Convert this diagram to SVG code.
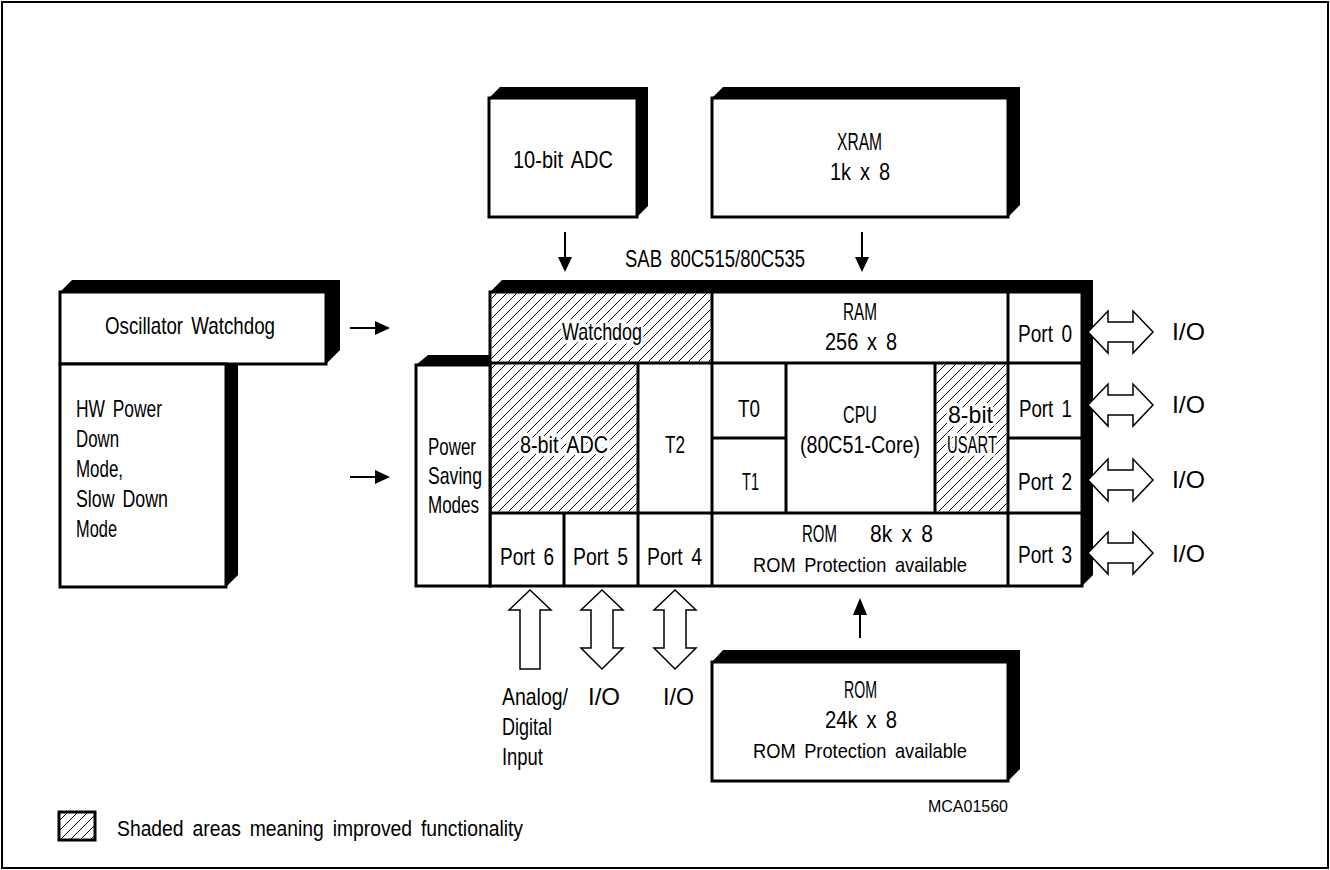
<svg xmlns="http://www.w3.org/2000/svg" width="1330" height="870" viewBox="0 0 1330 870">
<style>
.box{fill:#fff;stroke:#000;stroke-width:3}
.sh{fill:#000}
.ln{stroke:#000;stroke-width:3;fill:none}
.t{font-family:"Liberation Sans",Arial,sans-serif;font-size:24px;fill:#000;word-spacing:4px}
.rp{font-size:21px;word-spacing:4px}
.halo{stroke:#fff;stroke-width:7px;stroke-linejoin:round;paint-order:stroke}
.hat{fill:url(#hatch)}
.oa{fill:#fff;stroke:#000;stroke-width:1.5}
.arr{stroke:#000;stroke-width:2;fill:none}
.ah{fill:#000}
</style>
<defs>
<pattern id="hatch" patternUnits="userSpaceOnUse" width="10" height="10">
<path d="M-1,1 L1,-1 M0,10 L10,0 M9,11 L11,9" stroke="#000" stroke-width="1"/>
</pattern>
</defs>
<rect x="2" y="2" width="1326" height="866" fill="#fff" stroke="#000" stroke-width="2"/>

<g id="adc10">
<polygon class="sh" points="489,98 500,87 648,87 648,206 637,217 637,98"/>
<rect class="box" x="489" y="98" width="148" height="119"/>
<text class="t" x="513" y="168" textLength="100" lengthAdjust="spacingAndGlyphs">10-bit ADC</text>
</g>

<g id="xram">
<polygon class="sh" points="712,98 723,87 1020,87 1020,205 1008,217 1008,98"/>
<rect class="box" x="712" y="98" width="296" height="119"/>
<text class="t" x="837" y="150" textLength="45" lengthAdjust="spacingAndGlyphs">XRAM</text>
<text class="t" x="830" y="180" textLength="60" lengthAdjust="spacingAndGlyphs">1k x 8</text>
</g>

<text class="t" x="625" y="267" textLength="180" lengthAdjust="spacingAndGlyphs">SAB 80C515/80C535</text>

<g id="osc-watchdog">
<polygon class="sh" points="60,292 72,280 340,280 340,350 326,364 326,292"/>
<rect class="box" x="60" y="292" width="266" height="72"/>
<text class="t" x="105" y="334" textLength="170" lengthAdjust="spacingAndGlyphs">Oscillator Watchdog</text>
</g>

<g id="hw-power-down">
<polygon class="sh" points="226,364 238,364 238,575 226,587"/>
<rect class="box" x="60" y="364" width="166" height="223"/>
<text class="t" x="76" y="417" textLength="86" lengthAdjust="spacingAndGlyphs">HW Power</text>
<text class="t" x="76" y="447" textLength="43" lengthAdjust="spacingAndGlyphs">Down</text>
<text class="t" x="76" y="477" textLength="47" lengthAdjust="spacingAndGlyphs">Mode,</text>
<text class="t" x="76" y="507" textLength="92" lengthAdjust="spacingAndGlyphs">Slow Down</text>
<text class="t" x="76" y="537" textLength="41" lengthAdjust="spacingAndGlyphs">Mode</text>
</g>

<g id="main-block">
<polygon class="sh" points="490,292 502,280 1093,280 1093,575 1082,586 1082,292"/>
<polygon class="sh" points="416,365 428,355 490,355 490,365"/>
<rect class="box" x="490" y="292" width="592" height="294"/>
<rect class="box" x="416" y="365" width="74" height="221"/>
</g>

<g id="power-saving">
<text class="t" x="428" y="455" textLength="48" lengthAdjust="spacingAndGlyphs">Power</text>
<text class="t" x="428" y="484" textLength="54" lengthAdjust="spacingAndGlyphs">Saving</text>
<text class="t" x="428" y="513" textLength="51" lengthAdjust="spacingAndGlyphs">Modes</text>
</g>

<g id="watchdog">
<rect class="hat" x="491.5" y="293.5" width="219" height="68"/>
<text class="t halo" x="562" y="340" textLength="80" lengthAdjust="spacingAndGlyphs">Watchdog</text>
</g>

<g id="adc8">
<rect class="hat" x="491.5" y="364.5" width="145" height="147"/>
<text class="t halo" x="520" y="453" textLength="88" lengthAdjust="spacingAndGlyphs">8-bit ADC</text>
</g>

<g id="usart">
<rect class="hat" x="936.5" y="364.5" width="70" height="147"/>
<text class="t halo" x="948" y="423" textLength="45" lengthAdjust="spacingAndGlyphs">8-bit</text>
<text class="t halo" x="947" y="453" textLength="50" lengthAdjust="spacingAndGlyphs">USART</text>
</g>

<g id="grid">
<path class="ln" d="M712,292 V586 M1008,292 V586 M490,363 H1082 M490,513 H1082 M712,438 H786 M1008,438 H1082 M638,363 V586 M564,513 V586 M786,363 V513 M935,363 V513"/>
</g>

<g id="t2"><text class="t" x="665" y="453" textLength="20" lengthAdjust="spacingAndGlyphs">T2</text></g>
<g id="ram">
<text class="t" x="843" y="320" textLength="34" lengthAdjust="spacingAndGlyphs">RAM</text>
<text class="t" x="825" y="350" textLength="72" lengthAdjust="spacingAndGlyphs">256 x 8</text>
</g>
<g id="t0"><text class="t" x="738" y="417" textLength="22" lengthAdjust="spacingAndGlyphs">T0</text></g>
<g id="t1"><text class="t" x="742" y="490" textLength="17" lengthAdjust="spacingAndGlyphs">T1</text></g>
<g id="cpu">
<text class="t" x="843" y="423" textLength="34" lengthAdjust="spacingAndGlyphs">CPU</text>
<text class="t" x="800" y="453" textLength="120" lengthAdjust="spacingAndGlyphs">(80C51-Core)</text>
</g>
<g id="rom8k">
<text class="t"><tspan x="802" y="542" textLength="35" lengthAdjust="spacingAndGlyphs">ROM</tspan><tspan x="870" y="542" textLength="63" lengthAdjust="spacingAndGlyphs">8k x 8</tspan></text>
<text class="t rp" x="753" y="572" textLength="214" lengthAdjust="spacingAndGlyphs">ROM Protection available</text>
</g>
<g id="port0"><text class="t" x="1018" y="342" textLength="54" lengthAdjust="spacingAndGlyphs">Port 0</text></g>
<g id="port1"><text class="t" x="1019" y="417" textLength="53" lengthAdjust="spacingAndGlyphs">Port 1</text></g>
<g id="port2"><text class="t" x="1018" y="490" textLength="54" lengthAdjust="spacingAndGlyphs">Port 2</text></g>
<g id="port3"><text class="t" x="1018" y="563" textLength="54" lengthAdjust="spacingAndGlyphs">Port 3</text></g>
<g id="port6"><text class="t" x="500" y="565" textLength="54" lengthAdjust="spacingAndGlyphs">Port 6</text></g>
<g id="port5"><text class="t" x="573" y="565" textLength="55" lengthAdjust="spacingAndGlyphs">Port 5</text></g>
<g id="port4"><text class="t" x="647" y="565" textLength="55" lengthAdjust="spacingAndGlyphs">Port 4</text></g>

<g id="rom24k">
<polygon class="sh" points="712,662 723,650 1020,650 1020,769 1008,781 1008,662"/>
<rect class="box" x="712" y="662" width="296" height="119"/>
<text class="t" x="844" y="698" textLength="33" lengthAdjust="spacingAndGlyphs">ROM</text>
<text class="t" x="825" y="728" textLength="72" lengthAdjust="spacingAndGlyphs">24k x 8</text>
<text class="t rp" x="753" y="758" textLength="214" lengthAdjust="spacingAndGlyphs">ROM Protection available</text>
</g>

<g id="connectors">
<path class="arr" d="M565,232 V259 M862,232 V259 M350,328 H377 M350,477 H377 M860,638 V613"/>
<polygon class="ah" points="558,257 572,257 565,272"/>
<polygon class="ah" points="855,257 869,257 862,272"/>
<polygon class="ah" points="375,321 375,335 390,328"/>
<polygon class="ah" points="375,470 375,484 390,477"/>
<polygon class="ah" points="853,615 867,615 860,598"/>
<polygon class="oa" points="1088,332 1108,311 1108,322 1133,322 1133,311 1153,332 1133,353 1133,342 1108,342 1108,353"/>
<polygon class="oa" points="1088,405 1108,384 1108,395 1133,395 1133,384 1153,405 1133,426 1133,415 1108,415 1108,426"/>
<polygon class="oa" points="1088,480 1108,459 1108,470 1133,470 1133,459 1153,480 1133,501 1133,490 1108,490 1108,501"/>
<polygon class="oa" points="1088,553 1108,532 1108,543 1133,543 1133,532 1153,553 1133,574 1133,563 1108,563 1108,574"/>
<polygon class="oa" points="530,590 551,610 540,610 540,669 520,669 520,610 509,610"/>
<polygon class="oa" points="602,590 623,610 613,610 613,648 623,648 602,669 581,648 591,648 591,610 581,610"/>
<polygon class="oa" points="675,590 696,610 686,610 686,648 696,648 675,669 654,648 664,648 664,610 654,610"/>
</g>

<g id="io-labels">
<text class="t" x="1172" y="340" textLength="33" lengthAdjust="spacingAndGlyphs">I/O</text>
<text class="t" x="1172" y="413" textLength="33" lengthAdjust="spacingAndGlyphs">I/O</text>
<text class="t" x="1172" y="488" textLength="33" lengthAdjust="spacingAndGlyphs">I/O</text>
<text class="t" x="1172" y="562" textLength="33" lengthAdjust="spacingAndGlyphs">I/O</text>
<text class="t" x="502" y="705" textLength="66" lengthAdjust="spacingAndGlyphs">Analog/</text>
<text class="t" x="502" y="735" textLength="50" lengthAdjust="spacingAndGlyphs">Digital</text>
<text class="t" x="502" y="765" textLength="41" lengthAdjust="spacingAndGlyphs">Input</text>
<text class="t" x="588" y="705" textLength="32" lengthAdjust="spacingAndGlyphs">I/O</text>
<text class="t" x="663" y="705" textLength="31" lengthAdjust="spacingAndGlyphs">I/O</text>
</g>

<text x="928" y="812" textLength="80" lengthAdjust="spacingAndGlyphs" style="font-family:'Liberation Sans',Arial,sans-serif;font-size:16px">MCA01560</text>

<g id="legend">
<rect x="59" y="812" width="36" height="28" fill="url(#hatch)" stroke="#000" stroke-width="3"/>
<text class="t" x="117" y="836" textLength="406" lengthAdjust="spacingAndGlyphs" style="font-size:22px">Shaded areas meaning improved functionality</text>
</g>
</svg>
